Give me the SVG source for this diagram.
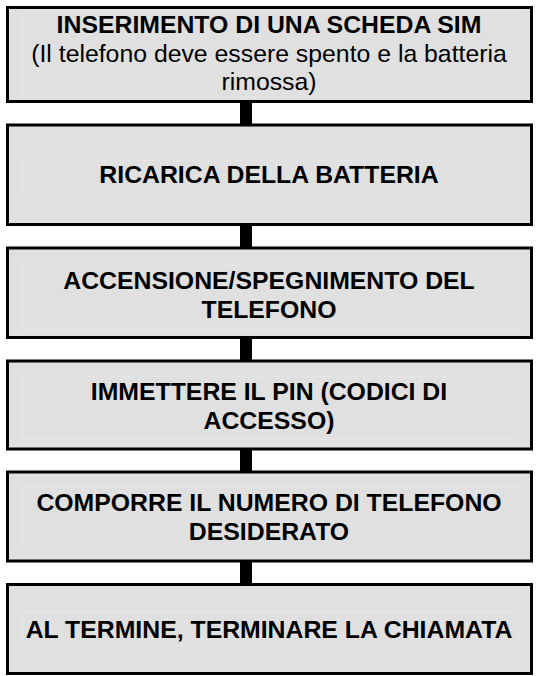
<svg xmlns="http://www.w3.org/2000/svg" width="537" height="676" viewBox="0 0 537 676">
<style>
.box{fill:#e0e0e0;stroke:#000;stroke-width:3}
.inner{fill:none;stroke:#e7e7e7;stroke-width:1}
.t{font-family:"Liberation Sans",Arial,sans-serif;font-size:24.8px;fill:#000;text-anchor:middle}
.b{font-weight:bold}
.conn{stroke:#000;stroke-width:12}
</style>
<rect x="0" y="0" width="537" height="676" fill="#fff"/>
<g id="connectors">
<line class="conn" x1="246" y1="101.5" x2="246" y2="125"/>
<line class="conn" x1="246" y1="224.5" x2="246" y2="248"/>
<line class="conn" x1="246" y1="337.5" x2="246" y2="361"/>
<line class="conn" x1="246" y1="449" x2="246" y2="472"/>
<line class="conn" x1="246" y1="561" x2="246" y2="584.5"/>
</g>
<g id="node1">
<rect class="box" x="7.5" y="7.5" width="524" height="94"/>
<rect class="inner" x="22" y="11" width="496" height="86"/>
<text class="t b" x="269" y="33">INSERIMENTO DI UNA SCHEDA SIM</text>
<text class="t" x="269" y="62">(Il telefono deve essere spento e la batteria</text>
<text class="t" x="269" y="90">rimossa)</text>
</g>
<g id="node2">
<rect class="box" x="7.5" y="125" width="524" height="99.5"/>
<rect class="inner" x="22" y="160" width="496" height="32"/>
<text class="t b" x="269" y="183">RICARICA DELLA BATTERIA</text>
</g>
<g id="node3">
<rect class="box" x="7.5" y="248" width="524" height="89.5"/>
<rect class="inner" x="22" y="264" width="496" height="65"/>
<text class="t b" x="269" y="289">ACCENSIONE/SPEGNIMENTO DEL</text>
<text class="t b" x="269" y="318">TELEFONO</text>
</g>
<g id="node4">
<rect class="box" x="7.5" y="361" width="524" height="88"/>
<rect class="inner" x="22" y="376" width="496" height="63"/>
<text class="t b" x="269" y="400">IMMETTERE IL PIN (CODICI DI</text>
<text class="t b" x="269" y="429">ACCESSO)</text>
</g>
<g id="node5">
<rect class="box" x="7.5" y="472" width="524" height="89"/>
<rect class="inner" x="22" y="486" width="496" height="60"/>
<text class="t b" x="269" y="511">COMPORRE IL NUMERO DI TELEFONO</text>
<text class="t b" x="269" y="540">DESIDERATO</text>
</g>
<g id="node6">
<rect class="box" x="7.5" y="584.5" width="524" height="89"/>
<rect class="inner" x="22" y="612" width="496" height="33"/>
<text class="t b" x="269" y="638">AL TERMINE, TERMINARE LA CHIAMATA</text>
</g>
</svg>
